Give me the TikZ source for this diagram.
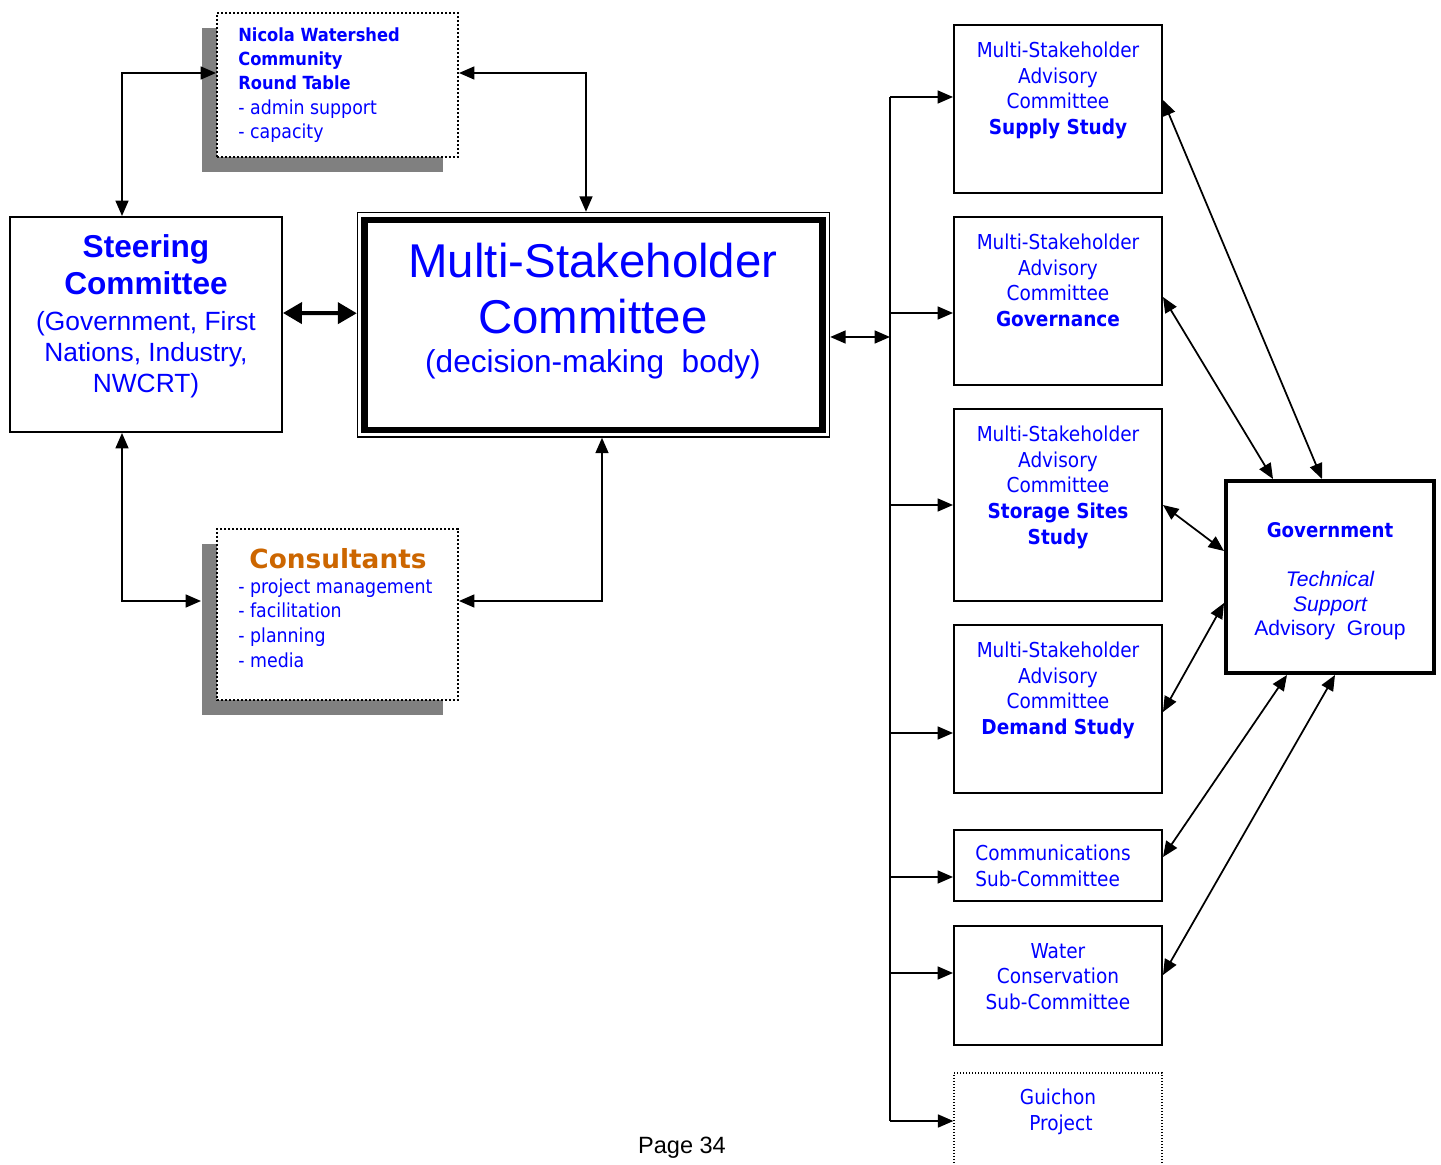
\documentclass[tikz,border=0pt]{standalone}
\usepackage{fontspec}
\setmainfont{Liberation Sans}
\newfontfamily\tahoma{DejaVu Sans Condensed}
\newfontfamily\verdana{DejaVu Sans}
\usepackage{tikz}
\usetikzlibrary{arrows.meta}
\usetikzlibrary{shadows}
\definecolor{txtblue}{RGB}{0,0,255}
\definecolor{consorange}{RGB}{204,102,0}
\definecolor{shadowgray}{RGB}{128,128,128}
\tikzstyle{box}=[draw=black, line width=0.04cm, fill=white, inner sep=0pt]
\tikzstyle{studybox}=[box, minimum width=4.16cm, minimum height=3.36cm]
\tikzstyle{dotbox}=[box, dash pattern=on 0.04cm off 0.04cm, minimum width=4.82cm,
    drop shadow={shadow xshift=-0.3cm, shadow yshift=-0.3cm, fill=shadowgray, opacity=1}]
\tikzstyle{boxtxt}=[text=txtblue, align=center, inner sep=0pt]
\tikzstyle{studytxt}=[boxtxt, anchor=north, font=\tahoma\fontsize{11.7}{14.5}\selectfont]
\tikzstyle{studyname}=[studytxt, font=\tahoma\bfseries\fontsize{11.7}{14.5}\selectfont]
\tikzstyle{listtxt}=[boxtxt, anchor=north west, align=left, font=\tahoma\fontsize{11}{14.2}\selectfont]
\tikzstyle{link}=[line width=0.035cm, {Triangle[length=0.31cm,width=0.26cm]}-{Triangle[length=0.31cm,width=0.26cm]}]
\tikzstyle{feed}=[line width=0.035cm, -{Triangle[length=0.31cm,width=0.26cm]}]
\tikzstyle{biglink}=[line width=0.08cm, {Triangle[length=0.38cm,width=0.42cm]}-{Triangle[length=0.38cm,width=0.42cm]}]

\begin{document}
\begin{tikzpicture}[x=0.02cm, y=-0.02cm]
  \useasboundingbox (0,0) rectangle (1441,1165);
  % left side
  \node[dotbox, minimum height=2.88cm] (nwcrt) at (337.5,85){};
  \node[listtxt, font=\tahoma\bfseries\fontsize{10.3}{13.7}\selectfont] (nwcrtname) at (238,27){Nicola Watershed\\Community\\Round Table};
  \node[listtxt] (nwcrtlist) at (238,99){- admin support\\- capacity};
  \node[dotbox, minimum height=3.42cm] (cons) at (337.5,614.5){};
  \node[boxtxt, anchor=north, text=consorange, font=\verdana\bfseries\fontsize{15}{18}\selectfont] (constitle) at (338,548){Consultants};
  \node[listtxt] (conslist) at (238,578){- project management\\- facilitation\\- planning\\- media};
  \node[box, minimum width=5.44cm, minimum height=4.3cm] (steering) at (146,324.5){};
  \node[boxtxt, anchor=north, font=\bfseries\fontsize{18}{21}\selectfont] (steertitle) at (146,234){Steering\\Committee};
  \node[boxtxt, anchor=north, font=\fontsize{15}{17.6}\selectfont] (steersub) at (146,311){(Government, First\\Nations, Industry,\\NWCRT)};
  \node[box, line width=0.03cm, minimum width=9.44cm, minimum height=4.49cm] (msc) at (593.5,324.75){};
  \node[draw, line width=0.13cm, minimum width=9.16cm, minimum height=4.2cm, inner sep=0pt] (mscin) at (593.6,325){};
  \node[boxtxt, anchor=north, font=\fontsize{27}{32}\selectfont] (msctitle) at (593,243){Multi-Stakeholder\\Committee};
  \node[boxtxt, anchor=north, font=\fontsize{18}{21}\selectfont] (mscsub) at (593,349){(decision-making\ \ body)};
  % right side
  \node[studybox] (supply) at (1058,109){};
  \node[studytxt] (supplytxt) at (1058,42){Multi-Stakeholder\\Advisory\\Committee};
  \node[studyname] (supplyname) at (1058,119){Supply Study};
  \node[studybox] (governance) at (1058,301){};
  \node[studytxt] (governancetxt) at (1058,234){Multi-Stakeholder\\Advisory\\Committee};
  \node[studyname] (governancename) at (1058,311){Governance};
  \node[studybox, minimum height=3.84cm] (storage) at (1058,505){};
  \node[studytxt] (storagetxt) at (1058,426){Multi-Stakeholder\\Advisory\\Committee};
  \node[studyname] (storagename) at (1058,503){Storage Sites\\Study};
  \node[studybox] (demand) at (1058,709){};
  \node[studytxt] (demandtxt) at (1058,642){Multi-Stakeholder\\Advisory\\Committee};
  \node[studyname] (demandname) at (1058,719){Demand Study};
  \node[studybox, minimum height=1.42cm] (comms) at (1058,865.5){};
  \node[studytxt, anchor=north west, align=left] (commstxt) at (975,845){Communications\\Sub-Committee};
  \node[studybox, minimum height=2.38cm] (water) at (1058,985.5){};
  \node[studytxt] (watertxt) at (1058,943){Water\\Conservation\\Sub-Committee};
  \node[studybox, line width=0.025cm, dash pattern=on 0.02cm off 0.04cm, minimum height=2.14cm] (guichon) at (1058,1126.5){};
  \node[studytxt] (guichontxt) at (1058,1089){Guichon\\\ Project};
  \node[box, line width=0.08cm, minimum width=4.16cm, minimum height=3.84cm] (gov) at (1330,577){};
  \node[studyname, font=\tahoma\bfseries\fontsize{11.5}{14}\selectfont] (govname) at (1330,522){Government};
  \node[boxtxt, anchor=north, font=\itshape\fontsize{12}{14}\selectfont] (govtech) at (1330,571){Technical\\Support};
  \node[boxtxt, anchor=north, font=\fontsize{12}{14}\selectfont] (govgroup) at (1330,620){Advisory\ \ Group};
  \node[inner sep=0pt, font=\fontsize{13.4}{16}\selectfont] (page) at (682,1148){Page 34};
  % connectors
  \draw[link] ([xshift=-0.48cm]steering.north) |- ([yshift=0.24cm]nwcrt.west);
  \draw[link] ([yshift=0.24cm]nwcrt.east) -| ([xshift=-0.15cm]msc.north);
  \draw[biglink] ([yshift=0.23cm]steering.east) -- ([yshift=0.23cm]msc.west);
  \draw[link] ([xshift=-0.48cm]steering.south) |- ([xshift=-0.3cm,yshift=0.27cm]cons.west);
  \draw[link] ([yshift=0.27cm]cons.east) -| ([xshift=0.17cm]msc.south);
  \coordinate (bustop) at (890,97);
  \coordinate (busmsc) at (890,337);
  \coordinate (busgov) at (890,313);
  \coordinate (busstorage) at (890,505);
  \coordinate (busdemand) at (890,733);
  \coordinate (buscomms) at (890,877);
  \coordinate (buswater) at (890,973);
  \coordinate (busbot) at (890,1121);
  \draw[line width=0.035cm] (bustop) -- (busbot);
  \draw[link] (msc.east |- busmsc) -- (busmsc);
  \draw[feed] (bustop) -- (supply.west |- bustop);
  \draw[feed] (busgov) -- (governance.west |- busgov);
  \draw[feed] (busstorage) -- (storage.west |- busstorage);
  \draw[feed] (busdemand) -- (demand.west |- busdemand);
  \draw[feed] (buscomms) -- (comms.west |- buscomms);
  \draw[feed] (buswater) -- (water.west |- buswater);
  \draw[feed] (busbot) -- (guichon.west |- busbot);
  \draw[link] ([yshift=0.18cm]supply.east) -- ([xshift=-0.16cm]gov.north);
  \draw[link] ([yshift=0.08cm]governance.east) -- ([xshift=-1.14cm]gov.north);
  \draw[link] (storage.east) -- ([yshift=0.52cm]gov.west);
  \draw[link] ([yshift=-0.06cm]demand.east) -- ([yshift=-0.52cm]gov.west);
  \draw[link] ([yshift=0.17cm]comms.east) -- ([xshift=-0.86cm]gov.south);
  \draw[link] ([yshift=0.21cm]water.east) -- ([xshift=0.1cm]gov.south);
\end{tikzpicture}
\end{document}
